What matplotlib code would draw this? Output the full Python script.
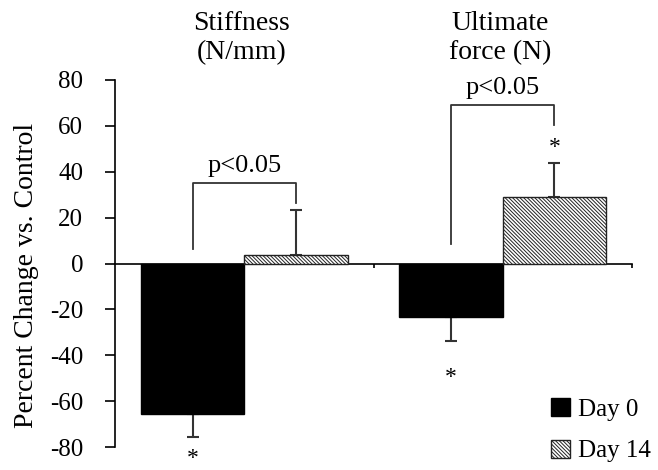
import numpy as np
import matplotlib
matplotlib.use("Agg")
import matplotlib.pyplot as plt

plt.rcParams["font.family"] = ["Liberation Serif", "DejaVu Serif"]
plt.rcParams["hatch.linewidth"] = 0.7
plt.rcParams["axes.unicode_minus"] = False

# data
groups = ["Stiffness\n(N/mm)", "Ultimate\nforce (N)"]
day0 = [-65.5, -23.5]
day0_err = [10.0, 10.5]
day14 = [3.5, 29.0]
day14_err = [20.0, 15.0]
series_labels = ["Day 0", "Day 14"]
yticks = [-80, -60, -40, -20, 0, 20, 40, 60, 80]

# significance brackets: (left foot, top, right foot)
brackets = [(6.5, 35.0, 26.5), (8.5, 69.0, 60.5)]
p_text = "p<0.05"
p_y = [42.5, 76.5]
# asterisks: (group index, series index, y)
stars = [(0, 0, -84.8), (1, 0, -49.5), (1, 1, 50.5)]

fig = plt.figure(figsize=(6.58, 4.70), dpi=100)
ax = fig.add_axes([115 / 658, 1 - 447 / 470, (632 - 115) / 658, (447 - 80) / 470])

x = np.arange(1, len(groups) + 1)
w = 0.40
x0 = x - w / 2
x14 = x + w / 2

ax.bar(x0, day0, w, color="black", edgecolor="black", linewidth=1, zorder=3,
       label=series_labels[0])
ax.bar(x14, day14, w, color="white", edgecolor="#222222", linewidth=1,
       hatch="\\" * 9, zorder=3, label=series_labels[1])

err_kw = dict(fmt="none", ecolor="#333333", elinewidth=1.5, capsize=4,
              capthick=1.5, zorder=2)
ax.errorbar(x0, day0, yerr=[day0_err, np.zeros(len(day0))], **err_kw)
ax.errorbar(x14, day14, yerr=[np.zeros(len(day14)), day14_err], **err_kw)

for i, (lo, top, ro) in enumerate(brackets):
    ax.plot([x0[i], x0[i], x14[i], x14[i]], [lo, top, top, ro],
            color="#333333", lw=1.3, zorder=4)
    ax.text((x0[i] + x14[i]) / 2, p_y[i], p_text, ha="center", va="center",
            fontsize=19)

for gi, si, yv in stars:
    xp = x0[gi] if si == 0 else x14[gi]
    ax.text(xp, yv, "*", ha="center", va="center", fontsize=17)

for i, g in enumerate(groups):
    ax.text(x[i] - 0.01, 1.115, g, transform=ax.get_xaxis_transform(),
            ha="center", va="center", fontsize=20, linespacing=1.2)

ax.set_xlim(0.5, 2.5)
ax.set_ylim(-80, 80)
ax.set_yticks(yticks)
ax.tick_params(axis="y", labelsize=18, length=7, width=1.2, pad=16)
ax.set_xticks([1.5, 2.5])
ax.set_xticklabels([])
ax.tick_params(axis="x", length=3, width=1.2, direction="out")
ax.spines["top"].set_visible(False)
ax.spines["right"].set_visible(False)
ax.spines["bottom"].set_position(("data", 0))
ax.spines["left"].set_linewidth(1.2)
ax.spines["bottom"].set_linewidth(1.2)

fig.text(27 / 658, 0.413, "Percent Change vs. Control", rotation=90,
         ha="center", va="center", fontsize=20)

ax.legend(loc="lower right", bbox_to_anchor=(1.0, 0.0),
          bbox_transform=fig.transFigure, frameon=False, fontsize=18,
          handlelength=0.75, handleheight=0.75, handletextpad=0.3,
          labelspacing=0.75, borderpad=0.1, borderaxespad=0.2)

fig.savefig("out.png", dpi=100)
